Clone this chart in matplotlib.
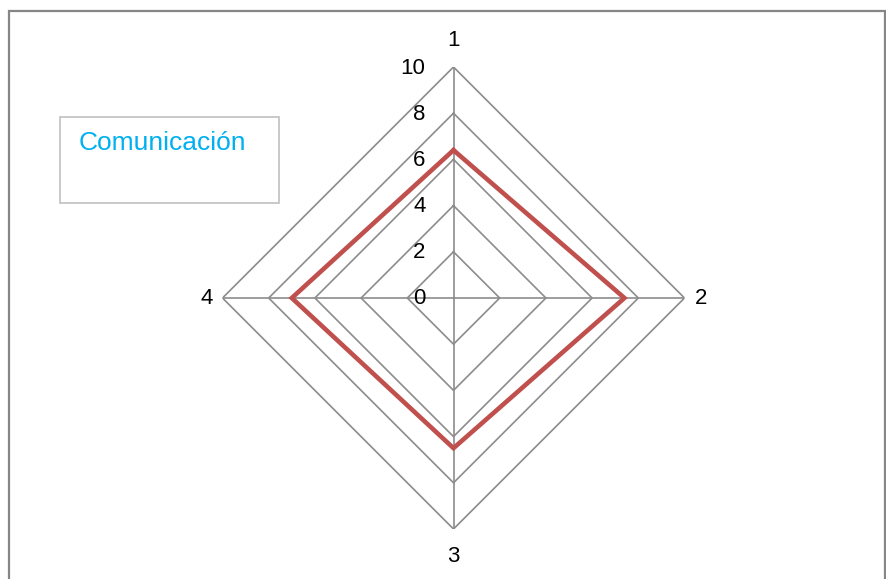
import numpy as np
import matplotlib
matplotlib.use("Agg")
import matplotlib.pyplot as plt
from matplotlib.patches import Rectangle

# data
categories = ["1", "2", "3", "4"]
values = [6.4, 7.4, 6.5, 7.0]
series_name = "Comunicación"
rings = [2, 4, 6, 8, 10]
r_max = 10

plt.rcParams["font.family"] = ["Liberation Sans", "DejaVu Sans"]

W, H = 886, 579
fig = plt.figure(figsize=(W / 100, H / 100), dpi=100)

# outer chart frame
fig.add_artist(Rectangle((8.5 / W, -0.05), (884.5 - 8.5) / W, 1.05 - 10.5 / H,
                         transform=fig.transFigure, fill=False,
                         edgecolor="#868686", linewidth=1.6))

cx, cy, rad = 453.5, 298, 231
ax = fig.add_axes([(cx - rad) / W, (H - cy - rad) / H, 2 * rad / W, 2 * rad / H],
                  projection="polar")
ax.set_theta_zero_location("N")
ax.set_theta_direction(-1)
ax.set_ylim(0, r_max)
ax.grid(False)
ax.spines["polar"].set_visible(False)
ax.set_xticks([])
ax.set_yticks([])
ax.patch.set_alpha(0)

n = len(categories)
theta = np.arange(n) * 2 * np.pi / n
theta_c = np.append(theta, theta[0])

grid_col = "#8c8c8c"
for r in rings:
    ax.plot(theta_c, [r] * (n + 1), color=grid_col, lw=1.2, zorder=1)
for t in theta:
    ax.plot([t, t], [0, r_max], color=grid_col, lw=1.2, zorder=1)

vals_c = values + values[:1]
ax.plot(theta_c, vals_c, color="#C0504D", lw=3.3, zorder=3,
        solid_joinstyle="miter")

# radial value labels along the first spoke
for r in [0] + rings:
    ax.annotate(str(r), xy=(0, r), xytext=(-28, -1), textcoords="offset pixels",
                ha="right", va="center", fontsize=16, color="#000000")

# category labels
offsets = [(0, 27), (10, 0), (0, -28), (-10, 0)]
aligns = [("center", "center"), ("left", "center"), ("center", "center"), ("right", "center")]
for t, lab, off, (ha, va) in zip(theta, categories, offsets, aligns):
    ax.annotate(lab, xy=(t, r_max), xytext=off, textcoords="offset pixels",
                ha=ha, va=va, fontsize=16, color="#000000")

# legend box
fig.add_artist(Rectangle((59.5 / W, 1 - 202.5 / H), (278.5 - 59.5) / W, (202.5 - 117.5) / H,
                         transform=fig.transFigure, fill=False,
                         edgecolor="#c0c0c0", linewidth=1.2))
fig.text(79 / W, 1 - 143 / H, series_name, color="#00B0F0", fontsize=19,
         ha="left", va="center")

fig.savefig("out.png", dpi=100)
